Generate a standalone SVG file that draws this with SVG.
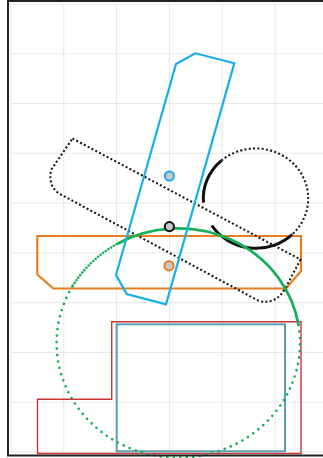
<svg xmlns="http://www.w3.org/2000/svg" width="323" height="458" viewBox="0 0 323 458">
<style>
.grid line{stroke:#e8e8e8;stroke-width:1}
.dot{fill:none;stroke:#1a1a1a;stroke-width:2.1;stroke-dasharray:2 2.3}
.solid{fill:none;stroke:#111;stroke-width:3}
.marker{fill:#c8c8c8;stroke-width:2}
</style>
<rect x="0" y="0" width="323" height="458" fill="#fff"/>
<g id="grid" class="grid">
<line x1="11" y1="4" x2="11" y2="452"/>
<line x1="63.8" y1="4" x2="63.8" y2="452"/>
<line x1="116.6" y1="4" x2="116.6" y2="452"/>
<line x1="169.4" y1="4" x2="169.4" y2="452"/>
<line x1="222.2" y1="4" x2="222.2" y2="452"/>
<line x1="275" y1="4" x2="275" y2="452"/>
<line x1="11" y1="4" x2="323" y2="4"/>
<line x1="11" y1="53.8" x2="323" y2="53.8"/>
<line x1="11" y1="103.6" x2="323" y2="103.6"/>
<line x1="11" y1="153.3" x2="323" y2="153.3"/>
<line x1="11" y1="203.1" x2="323" y2="203.1"/>
<line x1="11" y1="252.9" x2="323" y2="252.9"/>
<line x1="11" y1="302.7" x2="323" y2="302.7"/>
<line x1="11" y1="352.4" x2="323" y2="352.4"/>
<line x1="11" y1="402.2" x2="323" y2="402.2"/>
<line x1="11" y1="452" x2="323" y2="452"/>
</g>
<g id="red-shape">
<path d="M111.7,321.7 L301,321.7 L301,453.5 L37.5,453.5 L37.5,399.3 L111.7,399.3 Z" fill="none" stroke="#cc3333" stroke-width="1.4"/>
</g>
<g id="teal-rect">
<rect x="116.7" y="324.3" width="168.3" height="127" fill="none" stroke="#5a9fb6" stroke-width="2"/>
</g>
<g id="orange-shape">
<path d="M37.3,236 L301,236 L301,271 L286,288.5 L53.3,288.5 L37.3,274.5 Z" fill="none" stroke="#e67e22" stroke-width="2.2"/>
</g>
<g id="dotted-rect">
<path class="dot" d="M72.5,138.5 L300.5,259.5 L285.5,288 Q276,305 259,301 L59,193.5 Q48,186 51,170 Z"/>
</g>
<g id="black-circle">
<path class="solid" d="M203.5,202.7 A52.5,50 0 0 1 221.4,160.6"/>
<path class="dot" d="M221.4,160.6 A52.5,50 0 0 1 292.3,234.3"/>
<path class="solid" d="M292.3,234.3 A52.5,50 0 0 1 211.8,225.5"/>
</g>
<g id="green-ellipse" fill="none" stroke="#17b057">
<path d="M117.5,243.7 A121.7,114.7 0 0 1 298.5,325.1" stroke-width="2.8"/>
<path d="M72.9,285.6 A121.7,114.7 0 0 1 117.5,243.7" stroke-width="2.6" stroke-linecap="round" stroke-dasharray="0 3.2"/>
<path d="M298.5,325.1 A121.7,114.7 0 1 1 72.9,285.6" stroke-width="2.7" stroke-linecap="round" stroke-dasharray="0 6.5"/>
</g>
<g id="blue-shape">
<path d="M176,64 L195.3,53.3 L234.3,63.3 L166,304.3 L126.7,294 L116,275 Z" fill="none" stroke="#18aeea" stroke-width="2.2"/>
</g>
<g id="markers">
<circle id="blue-marker" class="marker" cx="169.4" cy="176" r="4.6" stroke="#18aeea"/>
<circle id="black-marker" class="marker" cx="169.4" cy="226.6" r="4.6" stroke="#111"/>
<circle id="orange-marker" class="marker" cx="169" cy="265.8" r="4.6" stroke="#e67e22"/>
</g>
<g id="frame">
<rect x="8" y="1" width="330" height="454.5" fill="none" stroke="#222" stroke-width="2"/>
</g>
</svg>
